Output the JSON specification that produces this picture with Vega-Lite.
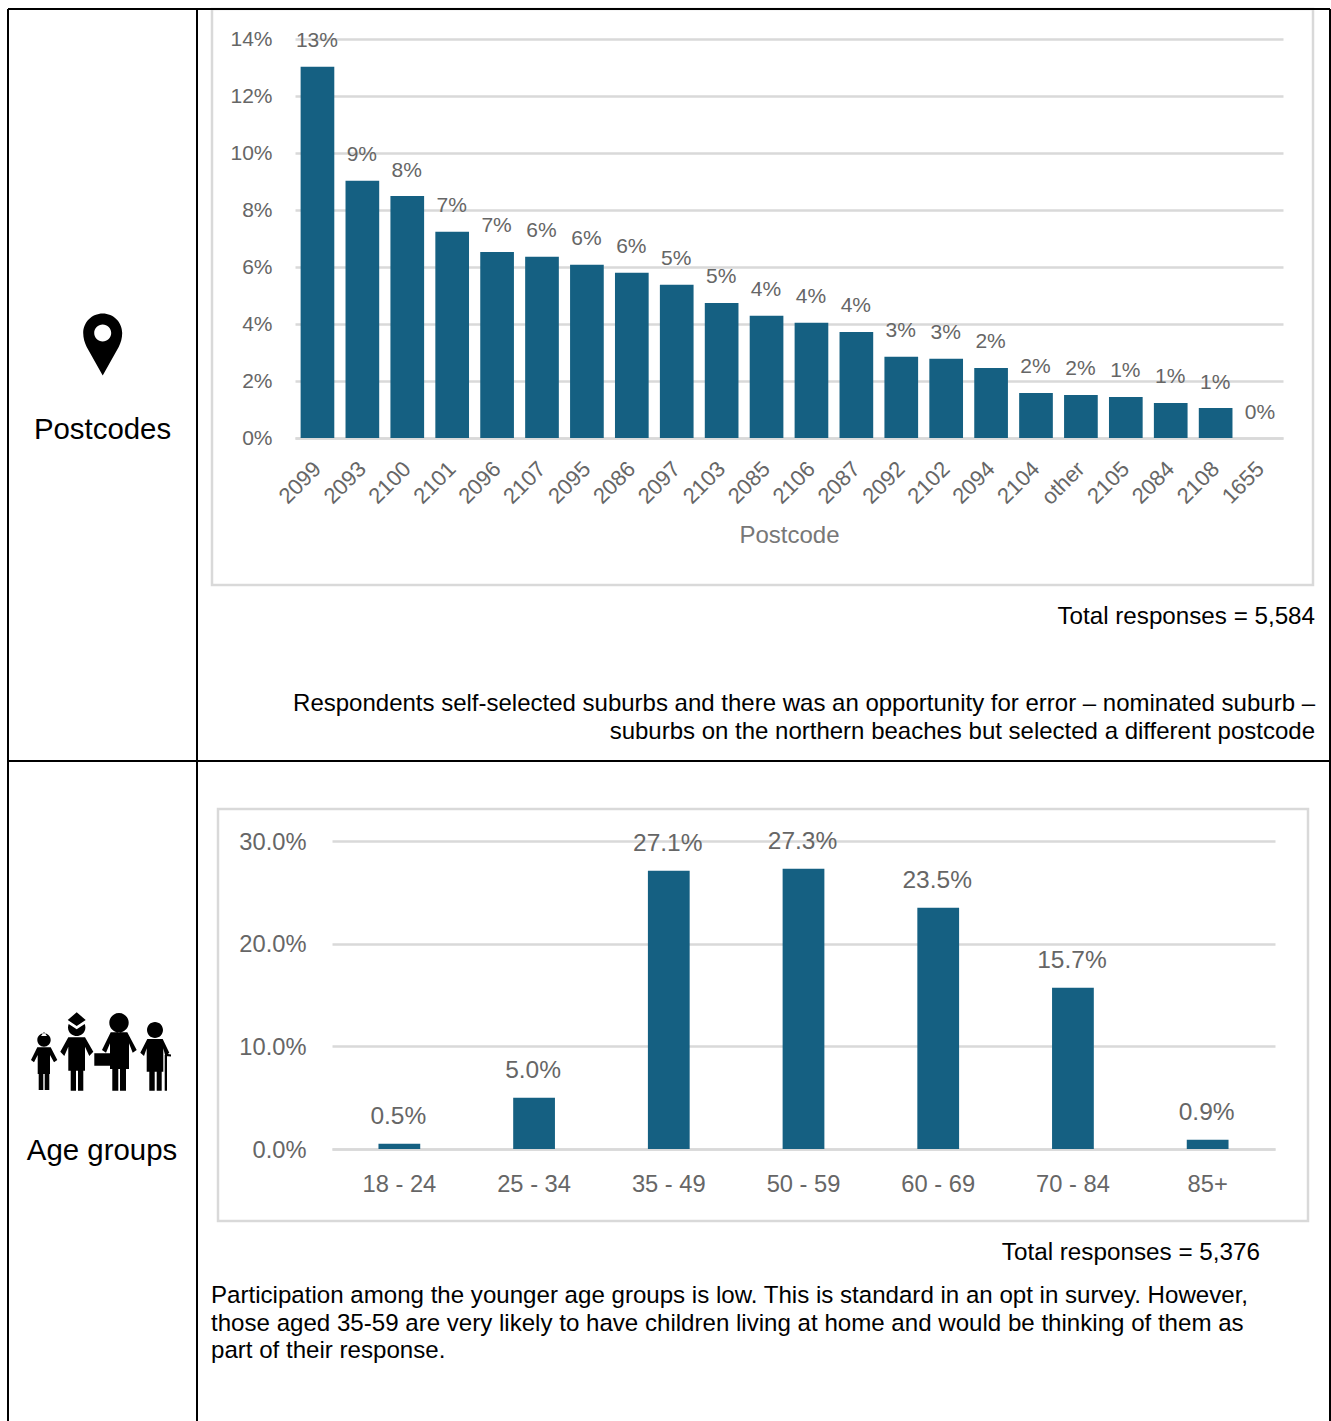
{
  "$schema": "https://vega.github.io/schema/vega-lite/v6.json",
  "padding": {"left": 7, "top": 7, "right": 0, "bottom": 0},
  "background": "white",
  "bounds": "flush",
  "spacing": 802,
  "config": {
    "font": "Liberation Sans",
    "view": {"stroke": null},
    "axis": {"labelFont": "Liberation Sans", "titleFont": "Liberation Sans", "labelColor": "#666666", "titleColor": "#777777", "gridColor": "#D9D9D9", "gridWidth": 2.5, "domainColor": "#D9D9D9", "domainWidth": 2.5, "ticks": false}
  },
  "datasets": {
    "postcodes": [
      {"postcode": "2099", "share": 0.1303},
      {"postcode": "2093", "share": 0.0903},
      {"postcode": "2100", "share": 0.0849},
      {"postcode": "2101", "share": 0.0724},
      {"postcode": "2096", "share": 0.0653},
      {"postcode": "2107", "share": 0.0636},
      {"postcode": "2095", "share": 0.0608},
      {"postcode": "2086", "share": 0.058},
      {"postcode": "2097", "share": 0.0538},
      {"postcode": "2103", "share": 0.0474},
      {"postcode": "2085", "share": 0.0429},
      {"postcode": "2106", "share": 0.0404},
      {"postcode": "2087", "share": 0.0372},
      {"postcode": "2092", "share": 0.0285},
      {"postcode": "2102", "share": 0.0278},
      {"postcode": "2094", "share": 0.0246},
      {"postcode": "2104", "share": 0.0158},
      {"postcode": "other", "share": 0.0151},
      {"postcode": "2105", "share": 0.0144},
      {"postcode": "2084", "share": 0.0123},
      {"postcode": "2108", "share": 0.0105},
      {"postcode": "1655", "share": 0.0}
    ],
    "ages": [
      {"age": "18 - 24", "share": 0.005},
      {"age": "25 - 34", "share": 0.05},
      {"age": "35 - 49", "share": 0.271},
      {"age": "50 - 59", "share": 0.273},
      {"age": "60 - 69", "share": 0.235},
      {"age": "70 - 84", "share": 0.157},
      {"age": "85+", "share": 0.009}
    ],
    "one": [{"row": 1}]
  },
  "vconcat": [
    {
      "bounds": "flush",
      "spacing": 0,
      "hconcat": [
        {
          "width": 287,
          "height": 399,
          "data": {"values": [{"label": "Postcodes"}]},
          "layer": [
            {
              "mark": {"type": "point", "filled": true, "opacity": 1, "color": "black", "size": 4,
                "shape": "M-19.5,0 A19.5,19.5 0 0 1 19.5,0 C19.5,5 18,10 16,14 L0,42.5 L-16,14 C-18,10 -19.5,5 -19.5,0 Z M0,-8.5 A8.5,8.5 0 0 0 0,8.5 A8.5,8.5 0 0 0 0,-8.5 Z"},
              "encoding": {"x": {"value": 94.7}, "y": {"value": 294}}
            },
            {
              "mark": {"type": "text", "fontSize": 29.4, "color": "black", "align": "center", "baseline": "middle"},
              "encoding": {"x": {"value": 94.5}, "y": {"value": 391}, "text": {"field": "label"}}
            }
          ]
        },
        {
          "width": 988,
          "height": 399,
          "data": {"name": "postcodes"},
          "layer": [
            {
              "data": {"name": "one"},
              "mark": {"type": "rect", "fill": "transparent", "stroke": "#D9D9D9", "strokeWidth": 2.5},
              "encoding": {"x": {"value": -83}, "x2": {"value": 1018}, "y": {"value": -30}, "y2": {"value": 546}}
            },
            {
              "data": {"name": "one"},
              "mark": {"type": "rect", "fill": "transparent", "stroke": "#D9D9D9", "strokeWidth": 2.5},
              "encoding": {"x": {"value": -77}, "x2": {"value": 1013}, "y": {"value": 770}, "y2": {"value": 1182}}
            },
            {
              "mark": {"type": "bar", "color": "#156082"},
              "encoding": {
                "x": {
                  "field": "postcode", "type": "nominal", "sort": null,
                  "scale": {"paddingInner": 0.25, "paddingOuter": 0.125},
                  "axis": {"labelAngle": -45, "labelFontSize": 22, "labelPadding": 27, "labelAlign": "right", "labelBaseline": "middle", "title": "Postcode", "titleFontSize": 24, "titleFontWeight": "normal", "titlePadding": 15}
                },
                "y": {
                  "field": "share", "type": "quantitative",
                  "scale": {"domain": [0, 0.14], "nice": false},
                  "axis": {"values": [0, 0.02, 0.04, 0.06, 0.08, 0.1, 0.12, 0.14], "format": ".0%", "domain": false, "grid": true, "labelFontSize": 21, "labelPadding": 23, "title": null}
                }
              }
            },
            {
              "mark": {"type": "text", "fontSize": 21, "color": "#666666", "align": "center", "baseline": "middle", "dy": -25.5, "dx": -0.5},
              "encoding": {
                "x": {"field": "postcode", "type": "nominal", "sort": null},
                "y": {"field": "share", "type": "quantitative"},
                "text": {"field": "share", "type": "quantitative", "format": ".0%"}
              }
            },
            {
              "data": {"name": "one"},
              "mark": {"type": "text", "fontSize": 24.2, "color": "black", "align": "right", "baseline": "middle"},
              "encoding": {"x": {"value": 1020}, "y": {"value": 578}, "text": {"value": "Total responses = 5,584"}}
            },
            {
              "data": {"name": "one"},
              "mark": {"type": "text", "fontSize": 24, "color": "black", "align": "right", "baseline": "middle", "lineHeight": 28},
              "encoding": {"x": {"value": 1020}, "y": {"value": 665}, "text": {"value": ["Respondents self-selected suburbs and there was an opportunity for error – nominated suburb –", "suburbs on the northern beaches but selected a different postcode"]}}
            },
            {
              "data": {"name": "one"},
              "mark": {"type": "text", "fontSize": 24.25, "color": "black", "align": "right", "baseline": "middle"},
              "encoding": {"x": {"value": 965}, "y": {"value": 1214}, "text": {"value": "Total responses = 5,376"}}
            },
            {
              "data": {"name": "one"},
              "mark": {"type": "text", "fontSize": 24.1, "color": "black", "align": "left", "baseline": "middle", "lineHeight": 27.5},
              "encoding": {"x": {"value": -84}, "y": {"value": 1257}, "text": {"value": ["Participation among the younger age groups is low. This is standard in an opt in survey. However,", "those aged 35-59 are very likely to have children living at home and would be thinking of them as", "part of their response."]}}
            },
            {"data": {"name": "one"}, "mark": {"type": "rule", "color": "black", "strokeWidth": 2}, "encoding": {"x": {"value": -287}, "y": {"value": -30}, "y2": {"value": 1382}}},
            {"data": {"name": "one"}, "mark": {"type": "rule", "color": "black", "strokeWidth": 2}, "encoding": {"x": {"value": -98}, "y": {"value": -30}, "y2": {"value": 1382}}},
            {"data": {"name": "one"}, "mark": {"type": "rule", "color": "black", "strokeWidth": 2}, "encoding": {"x": {"value": 1035}, "y": {"value": -30}, "y2": {"value": 1382}}},
            {"data": {"name": "one"}, "mark": {"type": "rule", "color": "black", "strokeWidth": 2}, "encoding": {"y": {"value": -30}, "x": {"value": -287}, "x2": {"value": 1035}}},
            {"data": {"name": "one"}, "mark": {"type": "rule", "color": "black", "strokeWidth": 2}, "encoding": {"y": {"value": 722}, "x": {"value": -287}, "x2": {"value": 1035}}}
          ]
        }
      ]
    },
    {
      "bounds": "flush",
      "spacing": 0,
      "hconcat": [
        {
          "width": 324,
          "height": 308,
          "data": {"values": [{"label": "Age groups"}]},
          "layer": [
            {
              "mark": {"type": "point", "filled": true, "opacity": 1, "color": "black", "size": 4,
                "shape": "M-64.7,-12 A6.7,6.7 0 1 0 -51.3,-12 A6.7,6.7 0 1 0 -64.7,-12 Z M-58,-20 L-55,-16 L-61,-16 Z M-64.7,-4.7 L-51.3,-4.7 L-44.7,8 L-48,10.3 L-52,3 L-52,22 L-52.7,22 L-52.7,38 L-57.3,38 L-57.3,22 L-58.7,22 L-58.7,38 L-63.3,38 L-63.3,22 L-64.3,22 L-64.3,3 L-68,10.3 L-71,8 Z M-33.3,-28 L-25.3,-22.7 L-17.3,-28 A8.7,8.7 0 1 1 -33.3,-28 Z M-25.3,-39.7 L-16.3,-32 L-25.3,-26 L-34.3,-32 Z M-33.7,-14.7 L-17,-14.7 L-8.7,-0.3 L-12.7,4 L-17,-5.3 L-17,18.7 L-18.7,18.7 L-18.7,38.7 L-24,38.7 L-24,18.7 L-26,18.7 L-26,38.7 L-31.3,38.7 L-31.3,18.7 L-33.7,18.7 L-33.7,-5.3 L-37.7,4 L-41.7,-0.3 Z M7.3,-29.3 A9.7,9.7 0 1 0 26.7,-29.3 A9.7,9.7 0 1 0 7.3,-29.3 Z M8.7,-19.7 L25.3,-19.7 L34.7,-2 L30.7,0.7 L27,-8.7 L27,17 L24,17 L24,38.7 L18,38.7 L18,17 L16.3,17 L16.3,38.7 L10.3,38.7 L10.3,17 L8,17 L8,-8.7 L4,0.7 L0,-2 Z M-7.7,1.3 L8,1.3 L8,13.7 L-7.7,13.7 Z M45,-22 A8,8 0 1 0 61,-22 A8,8 0 1 0 45,-22 Z M45.3,-13 L60.7,-13 L67.3,0.7 L63.3,4 L61.3,-3.7 L61.3,19.7 L59.7,19.7 L59.7,38.7 L54.7,38.7 L54.7,19.7 L52.7,19.7 L52.7,38.7 L47.3,38.7 L47.3,19.7 L44.7,19.7 L44.7,-3.7 L42,4 L38.3,0.7 Z M62.7,3 L65,3 L65,38.7 L62.7,38.7 Z M63,1.5 L69,2.5 L69,4.5 L63,4 Z"},
              "encoding": {"x": {"value": 94}, "y": {"value": 211}}
            },
            {
              "mark": {"type": "text", "fontSize": 29.4, "color": "black", "align": "center", "baseline": "middle"},
              "encoding": {"x": {"value": 94}, "y": {"value": 310}, "text": {"field": "label"}}
            }
          ]
        },
        {
          "width": 943,
          "height": 308,
          "data": {"name": "ages"},
          "layer": [
            {
              "mark": {"type": "bar", "color": "#156082"},
              "encoding": {
                "x": {
                  "field": "age", "type": "nominal", "sort": null,
                  "scale": {"paddingInner": 0.69, "paddingOuter": 0.345},
                  "axis": {"labelAngle": 0, "labelFontSize": 23.7, "labelPadding": 23, "title": null}
                },
                "y": {
                  "field": "share", "type": "quantitative",
                  "scale": {"domain": [0, 0.3], "nice": false},
                  "axis": {"values": [0, 0.1, 0.2, 0.3], "format": ".1%", "domain": false, "grid": true, "labelFontSize": 23.7, "labelPadding": 26, "labelOffset": 1, "title": null}
                }
              }
            },
            {
              "mark": {"type": "text", "fontSize": 24.5, "color": "#666666", "align": "center", "baseline": "middle", "dy": -27, "dx": -1},
              "encoding": {
                "x": {"field": "age", "type": "nominal", "sort": null},
                "y": {"field": "share", "type": "quantitative"},
                "text": {"field": "share", "type": "quantitative", "format": ".1%"}
              }
            }
          ]
        }
      ]
    }
  ]
}
